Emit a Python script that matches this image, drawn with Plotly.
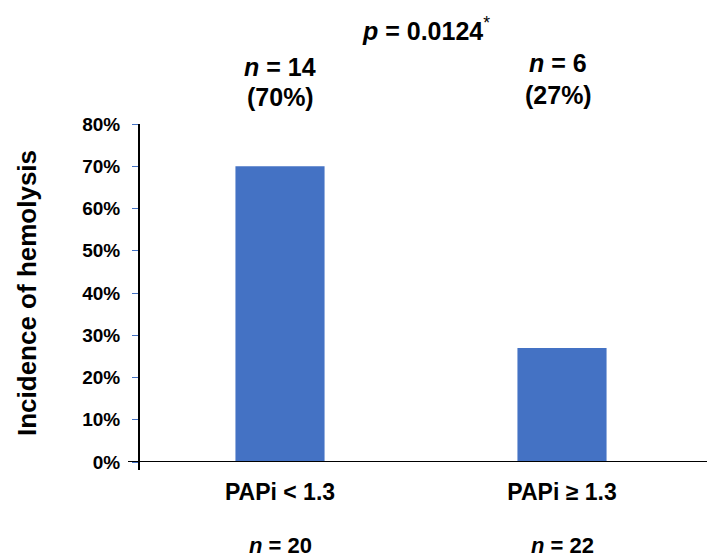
import plotly.graph_objects as go

# Hemolysis incidence by PAPi group
categories = ["PAPi < 1.3", "PAPi ≥ 1.3"]
incidence = [0.70, 0.27]
hemolysis_n = [14, 6]
group_n = [20, 22]
p_value = "0.0124"
y_ticks = [0, 0.1, 0.2, 0.3, 0.4, 0.5, 0.6, 0.7, 0.8]
y_tick_text = ["0%", "10%", "20%", "30%", "40%", "50%", "60%", "70%", "80%"]

FONT = "Liberation Sans, Arial, sans-serif"
BAR_COLOR = "#4472C4"
BLACK = "#000000"

fig = go.Figure(
    go.Bar(
        x=categories,
        y=incidence,
        width=0.316,
        marker=dict(color=BAR_COLOR, line=dict(width=0)),
        hoverinfo="skip",
    )
)

# per-group label heights above the plot (paper units)
count_label_y = [1.169, 1.180]
pct_label_y = [1.080, 1.086]
count_label_dx = [0, -4]

annotations = []
for cat, val, n_h, n_g, ya, yb, dx in zip(categories, incidence, hemolysis_n,
                                           group_n, count_label_y, pct_label_y,
                                           count_label_dx):
    annotations.append(dict(
        x=cat, xref="x", y=ya, yref="paper", xshift=dx,
        text=f"<b><i>n</i> = {n_h}</b>",
        showarrow=False, xanchor="center", yanchor="middle",
        font=dict(family=FONT, size=25, color=BLACK),
    ))
    annotations.append(dict(
        x=cat, xref="x", y=yb, yref="paper", xshift=dx,
        text=f"<b>({val:.0%})</b>",
        showarrow=False, xanchor="center", yanchor="middle",
        font=dict(family=FONT, size=25, color=BLACK),
    ))
    annotations.append(dict(
        x=cat, xref="x", y=-0.2456, yref="paper",
        text=f"<b><i>n</i> = {n_g}</b>",
        showarrow=False, xanchor="center", yanchor="middle",
        font=dict(family=FONT, size=22, color=BLACK),
    ))

annotations.append(dict(
    x=0.509, xref="paper", y=1.281, yref="paper",
    text=f"<b><i>p</i> = {p_value}</b><sup style='font-size:14px'>*</sup>",
    showarrow=False, xanchor="center", yanchor="middle",
    font=dict(family=FONT, size=25, color=BLACK),
))

shapes = [
    # x-axis line, extended slightly left of the y-axis
    dict(type="line", xref="paper", yref="y", x0=-0.0195, x1=1.01, y0=0, y1=0,
         line=dict(color=BLACK, width=2)),
    # y-axis line, extended slightly below the x-axis
    dict(type="line", xref="paper", yref="paper", x0=0, x1=0, y0=-0.024, y1=1.0,
         line=dict(color=BLACK, width=2)),
]

fig.update_layout(
    width=707, height=558,
    margin=dict(l=139, r=4, t=124, b=96),
    paper_bgcolor="#ffffff", plot_bgcolor="#ffffff",
    showlegend=False,
    font=dict(family=FONT, color=BLACK),
    xaxis=dict(
        type="category", range=[-0.5, 1.5],
        showline=False, showgrid=False, zeroline=False, ticks="",
        tickfont=dict(family=FONT, size=23, color=BLACK),
        tickprefix="<b>", ticksuffix="</b>",
        ticklabelstandoff=14,
    ),
    yaxis=dict(
        range=[0, 0.8], tickvals=y_ticks, ticktext=[f"<b>{t}</b>" for t in y_tick_text],
        showline=False, showgrid=False, zeroline=False,
        ticks="outside", ticklen=6, tickcolor=BAR_COLOR, tickwidth=1,
        tickfont=dict(family=FONT, size=19, color=BLACK),
        ticklabelstandoff=8,
        title=dict(text="<b>Incidence of hemolysis</b>", standoff=38,
                   font=dict(family=FONT, size=26, color=BLACK)),
    ),
    annotations=annotations,
    shapes=shapes,
)

fig.write_html("out.html")
